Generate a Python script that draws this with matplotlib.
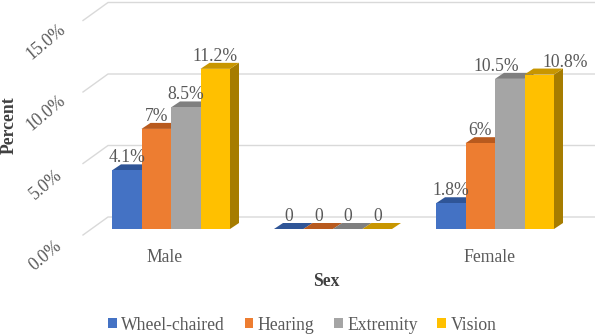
import numpy as np
import matplotlib.pyplot as plt
from matplotlib.patches import Polygon

# DATA
categories = ["Male", "", "Female"]
series = ["Wheel-chaired", "Hearing", "Extremity", "Vision"]
wheel_chaired = [4.1, 0, 1.8]
hearing = [7, 0, 6]
extremity = [8.5, 0, 10.5]
vision = [11.2, 0, 10.8]
yticks = [0, 5, 10, 15]
ytick_labels = ["0.0%", "5.0%", "10.0%", "15.0%"]

# STYLE
front_colors = ["#4472C4", "#ED7D31", "#A5A5A5", "#FFC000"]
top_colors = ["#2F5597", "#B85A1E", "#7F7F7F", "#C89600"]
side_colors = ["#2A4C87", "#A04E1A", "#707070", "#A67C00"]
text_color = "#595959"
grid_color = "#D9D9D9"
# label nudges in px (series index, category index) -> x shift, where Excel moved them apart
label_nudge = {(2, 2): -13, (3, 2): 26}

plt.rcParams['font.family'] = ['Liberation Serif', 'DejaVu Serif']
plt.rcParams['font.size'] = 12.7

# Pixel geometry of the front plane (figure is 595 x 336 px)
W, H = 595, 336
x0_px, px_per_cat = 171, 162      # centre of first category, px per category
y0_px, px_per_pct = 229, 14.3     # baseline row of bar fronts, px per percent

def dx(px):
    return px / px_per_cat

def dy(px):
    return px / px_per_pct

fig = plt.figure(figsize=(W / 100, H / 100), dpi=100)
ax = fig.add_axes([0, 0, 1, 1])
ax.set_xlim(-dx(x0_px), dx(W - x0_px))
ax.set_ylim(-dy(H - y0_px), dy(y0_px))
ax.axis("off")

# depth offsets
bar_dx, bar_dy = dx(9), dy(6)
wall_dy = dy(12)
slant_x0, slant_x1 = dx(83 - x0_px), dx(108 - x0_px)
floor_front = -dy(6)

# walls: side-wall slants + back-wall gridlines
xr = ax.get_xlim()[1]
for v, lab in zip(yticks, ytick_labels):
    ax.plot([slant_x0, slant_x1, xr], [v + floor_front, v + wall_dy, v + wall_dy],
            color=grid_color, lw=1, zorder=0)
    ax.text(dx(46 - x0_px), v + floor_front - dy(21), lab, rotation=40,
            ha="center", va="center", color=text_color)

# bars
width = dx(29.5)
x = np.arange(len(categories))
values = [wheel_chaired, hearing, extremity, vision]
for j, (vals, name) in enumerate(zip(values, series)):
    pos = x + (j - 1.5) * width
    for i, (xi, v) in enumerate(zip(pos, vals)):
        l, r = xi - width / 2, xi + width / 2
        side = Polygon([(r, 0), (r + bar_dx, bar_dy), (r + bar_dx, v + bar_dy), (r, v)],
                       closed=True, facecolor=side_colors[j], edgecolor="none", zorder=2 + j)
        top = Polygon([(l, v), (l + bar_dx, v + bar_dy), (r + bar_dx, v + bar_dy), (r, v)],
                      closed=True, facecolor=top_colors[j], edgecolor="none", zorder=2 + j)
        ax.add_patch(side)
        ax.add_patch(top)
        txt = "0" if v == 0 else f"{v:g}%"
        ax.text(xi + dx(label_nudge.get((j, i), 0)), v + bar_dy + dy(2), txt,
                ha="center", va="baseline", color=text_color, zorder=10)
    ax.bar(pos, vals, width=width, color=front_colors[j], label=name, zorder=2 + j)

# category labels
for xi, c in zip(x, categories):
    ax.text(xi - dx(6), -dy(28), c, ha="center", va="center", color=text_color)

ax.text(dx(326 - x0_px), -dy(282 - y0_px), "Sex", ha="center", va="center",
        fontweight="bold", color="#404040")
fig.text(9 / W, 1 - 125 / H, "Percent", rotation=90, ha="center", va="center",
         fontweight="bold", color="#404040")

ax.legend(loc="center", bbox_to_anchor=(0.508, 1 - 325 / H), bbox_transform=fig.transFigure,
          ncol=4, frameon=False, handlelength=0.5, handleheight=0.5, handletextpad=0.25,
          columnspacing=1.1, labelcolor=text_color)

fig.savefig("out.png", dpi=100)
